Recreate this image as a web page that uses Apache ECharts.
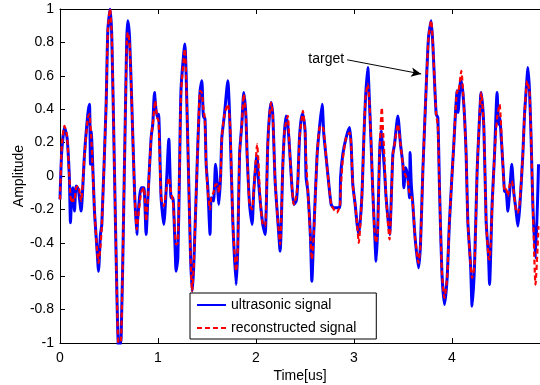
<!DOCTYPE html>
<html>
<head>
<meta charset="utf-8">
<script src="https://cdn.jsdelivr.net/npm/echarts@6/dist/echarts.min.js"></script>
<style>html,body{margin:0;padding:0;background:#fff}#c{width:540px;height:385px}</style>
</head>
<body>
<div id="c"></div>
<script>
var timeUs = [0.000,0.018,0.046,0.072,0.095,0.107,0.120,0.131,0.148,0.164,0.187,0.215,0.250,0.284,0.301,0.311,0.318,0.352,0.379,0.393,0.413,0.427,0.471,0.488,0.511,0.529,0.556,0.583,0.600,0.624,0.651,0.672,0.682,0.692,0.710,0.733,0.761,0.784,0.794,0.828,0.856,0.879,0.896,0.930,0.947,0.965,0.971,0.991,1.006,1.032,1.060,1.083,1.111,1.134,1.152,1.175,1.185,1.203,1.220,1.236,1.274,1.305,1.332,1.349,1.366,1.407,1.430,1.448,1.465,1.478,1.492,1.509,1.532,1.543,1.567,1.588,1.611,1.621,1.639,1.652,1.679,1.713,1.737,1.764,1.798,1.815,1.833,1.856,1.876,1.897,1.910,1.935,1.961,1.978,2.002,2.012,2.024,2.047,2.070,2.094,2.121,2.139,2.155,2.172,2.196,2.224,2.247,2.275,2.292,2.308,2.326,2.343,2.366,2.387,2.412,2.428,2.445,2.469,2.479,2.502,2.512,2.530,2.557,2.571,2.591,2.625,2.649,2.676,2.693,2.717,2.741,2.768,2.795,2.826,2.856,2.864,2.887,2.921,2.956,2.972,2.989,3.013,3.033,3.050,3.081,3.102,3.119,3.142,3.160,3.176,3.193,3.211,3.227,3.244,3.262,3.278,3.285,3.295,3.313,3.329,3.364,3.398,3.415,3.449,3.476,3.500,3.510,3.530,3.551,3.568,3.574,3.586,3.602,3.625,3.660,3.680,3.704,3.738,3.762,3.789,3.806,3.840,3.857,3.874,3.898,3.925,3.952,3.976,4.020,4.054,4.064,4.089,4.097,4.122,4.146,4.163,4.191,4.207,4.232,4.258,4.273,4.293,4.299,4.327,4.350,4.375,4.385,4.411,4.436,4.462,4.477,4.487,4.521,4.538,4.556,4.572,4.592,4.612,4.633,4.656,4.674,4.694,4.725,4.742,4.769,4.776,4.793,4.809,4.827,4.854,4.885];

var ultrasonic = [-0.14,0.15,0.29,0.23,0.0,-0.28,-0.1,-0.07,-0.21,-0.06,-0.08,-0.21,0.13,0.37,0.43,0.07,0.27,-0.21,-0.45,-0.57,-0.35,-0.29,0.43,0.87,1.0,0.83,0.03,-0.77,-1.05,-0.97,-0.17,0.53,0.83,0.93,0.83,0.43,-0.09,-0.35,-0.25,-0.07,-0.07,-0.35,-0.15,0.23,0.31,0.5,0.5,0.35,0.37,-0.13,-0.29,-0.09,0.22,-0.13,-0.13,-0.43,-0.57,-0.49,0.03,0.53,0.79,0.19,-0.47,-0.69,-0.53,0.19,0.51,0.57,0.35,0.35,0.07,-0.07,-0.35,-0.13,-0.15,0.07,-0.09,-0.17,-0.01,0.23,0.37,0.57,0.27,-0.27,-0.65,-0.43,0.13,0.31,0.5,0.37,0.13,-0.17,-0.29,-0.09,0.09,0.12,-0.01,-0.17,-0.29,-0.35,0.19,0.37,0.44,0.37,-0.03,-0.27,-0.45,0.07,0.27,0.36,0.3,0.17,-0.05,-0.17,-0.15,-0.03,0.23,0.37,0.37,0.27,-0.01,-0.09,-0.37,-0.63,-0.33,0.13,0.29,0.43,0.25,0.11,-0.03,-0.17,-0.19,-0.19,-0.19,-0.01,0.13,0.23,0.29,0.19,-0.05,-0.17,-0.29,-0.35,-0.13,0.23,0.47,0.65,0.43,0.19,-0.09,-0.33,-0.51,-0.3,0.13,0.27,0.27,0.17,0.03,-0.13,-0.35,0.13,0.19,0.36,0.19,0.07,-0.07,0.05,-0.01,-0.13,0.14,-0.05,-0.17,-0.37,-0.55,-0.41,0.03,0.53,0.83,0.93,0.79,0.37,0.35,-0.07,-0.57,-0.77,-0.61,-0.27,0.19,0.51,0.38,0.57,0.57,0.43,0.13,-0.27,-0.53,-0.78,-0.53,0.03,0.23,0.47,0.5,0.29,-0.27,-0.49,-0.65,-0.17,0.13,0.5,0.31,0.35,0.07,-0.09,-0.1,-0.21,-0.08,0.07,-0.1,-0.21,-0.3,-0.18,0.13,0.37,0.6,0.65,0.51,0.23,-0.17,-0.49,0.07];

var reconstructed = [-0.14,0.18,0.3,0.24,0.0,-0.12,-0.16,-0.14,-0.15,-0.07,-0.06,-0.15,0.12,0.35,0.37,0.3,0.25,-0.2,-0.45,-0.52,-0.42,-0.3,0.43,0.87,1.0,0.83,0.03,-0.77,-1.05,-0.97,-0.17,0.53,0.8,0.86,0.8,0.43,-0.09,-0.32,-0.27,-0.1,-0.07,-0.27,-0.15,0.23,0.31,0.42,0.45,0.35,0.33,-0.13,-0.18,-0.09,-0.01,-0.1,-0.15,-0.35,-0.41,-0.4,0.03,0.5,0.76,0.19,-0.47,-0.69,-0.53,0.19,0.51,0.5,0.4,0.35,0.07,-0.1,-0.2,-0.13,-0.1,-0.05,-0.05,-0.1,-0.01,0.23,0.37,0.43,0.3,-0.27,-0.57,-0.43,0.13,0.31,0.49,0.37,0.13,-0.17,-0.2,-0.09,0.12,0.19,0.1,-0.17,-0.29,-0.3,0.19,0.37,0.44,0.37,-0.03,-0.27,-0.41,0.07,0.27,0.32,0.36,0.17,-0.05,-0.17,-0.12,-0.03,0.23,0.35,0.39,0.27,0.1,-0.09,-0.37,-0.5,-0.35,0.13,0.29,0.3,0.27,0.11,-0.03,-0.17,-0.2,-0.22,-0.18,-0.1,0.1,0.23,0.26,0.19,-0.05,-0.17,-0.29,-0.4,-0.13,0.23,0.47,0.55,0.43,0.19,-0.09,-0.33,-0.4,-0.32,0.13,0.35,0.41,0.3,0.1,-0.13,-0.38,0.13,0.19,0.31,0.19,0.07,0.03,0.0,-0.03,-0.1,-0.1,-0.12,-0.17,-0.37,-0.52,-0.41,0.03,0.53,0.83,0.93,0.79,0.37,0.3,-0.07,-0.57,-0.73,-0.61,-0.27,0.19,0.51,0.5,0.6,0.63,0.43,0.13,-0.27,-0.53,-0.61,-0.53,0.03,0.23,0.47,0.5,0.29,-0.27,-0.49,-0.5,-0.2,0.13,0.35,0.4,0.43,0.07,-0.09,-0.08,-0.12,-0.05,-0.03,-0.1,-0.21,-0.22,-0.15,0.13,0.37,0.57,0.55,0.51,0.23,-0.17,-0.65,-0.3];

var seriesNames = ['ultrasonic signal', 'reconstructed signal'];
var xTickValues = [0, 1, 2, 3, 4];
var yTickLabels = ['-1','-0.8','-0.6','-0.4','-0.2','0','0.2','0.4','0.6','0.8','1'];
var annotationText = 'target';
var arrowFrom = [2.931, 0.696];
var arrowTo = [3.687, 0.611];

function zip(xs, ys) { return xs.map(function (x, i) { return [x, ys[i]]; }); }

var FONT = 'Liberation Sans';
var chart = echarts.init(document.getElementById('c'), null, { renderer: 'canvas' });
var axisCommon = {
  type: 'value',
  axisLine: { show: true, onZero: false, lineStyle: { color: '#000', width: 1 } },
  axisTick: { show: true, inside: true, length: 5, lineStyle: { color: '#000' } },
  splitLine: { show: false },
  axisLabel: { color: '#000', fontFamily: FONT, fontSize: 14 }
};
chart.setOption({
  animation: false,
  backgroundColor: '#fff',
  grid: { left: 60, right: 0, top: 9, bottom: 42, containLabel: false, outerBoundsMode: 'none', show: false },
  legend: {
    orient: 'vertical', left: 190, top: 293,
    data: seriesNames,
    itemWidth: 29, itemHeight: 14, itemGap: 9,
    padding: [5, 20, 4, 6],
    borderColor: '#000', borderWidth: 1, backgroundColor: '#fff',
    itemStyle: { opacity: 0 },
    textStyle: { color: '#000', fontFamily: FONT, fontSize: 14 }
  },
  xAxis: [
    Object.assign({}, axisCommon, {
      min: 0, max: 4.9, interval: 1, position: 'bottom',
      axisLabel: Object.assign({}, axisCommon.axisLabel, { margin: 8, showMaxLabel: false,
        formatter: function (v) { return xTickValues.indexOf(v) >= 0 ? String(v) : ''; } }),
      name: 'Time[us]', nameLocation: 'middle', nameGap: 26, nameMoveOverlap: false,
      nameTextStyle: { color: '#000', fontFamily: FONT, fontSize: 14 }
    }),
    Object.assign({}, axisCommon, {
      min: 0, max: 4.9, interval: 1, position: 'top',
      axisLabel: { show: false }
    })
  ],
  yAxis: [
    Object.assign({}, axisCommon, {
      min: -1, max: 1, interval: 0.2,
      axisLabel: Object.assign({}, axisCommon.axisLabel, { margin: 6,
        formatter: function (v) { return yTickLabels[Math.round((v + 1) / 0.2)]; } }),
      name: 'Amplitude', nameLocation: 'middle', nameGap: 34, nameRotate: 90, nameMoveOverlap: false,
      nameTextStyle: { color: '#000', fontFamily: FONT, fontSize: 14 }
    })
  ],
  series: [
    {
      name: seriesNames[0], type: 'line', data: zip(timeUs, ultrasonic),
      showSymbol: false, symbol: 'none', smooth: 0.2, clip: true,
      lineStyle: { color: '#0000ff', width: 3 },
      itemStyle: { color: '#0000ff' }
    },
    {
      name: seriesNames[1], type: 'line', data: zip(timeUs, reconstructed),
      showSymbol: false, symbol: 'none', smooth: 0.2, clip: true,
      lineStyle: { color: '#ff0000', width: 2.2, type: [5, 3] },
      itemStyle: { color: '#ff0000' },
      markLine: {
        silent: true, animation: false,
        symbol: ['none', 'arrow'], symbolSize: [7, 10],
        lineStyle: { color: '#000', width: 1, type: 'solid' },
        label: { show: true, position: 'start', formatter: annotationText, color: '#000', fontFamily: FONT, fontSize: 14, distance: 3 },
        data: [[ { coord: arrowFrom }, { coord: arrowTo } ]]
      }
    }
  ]
});
</script>
</body>
</html>
